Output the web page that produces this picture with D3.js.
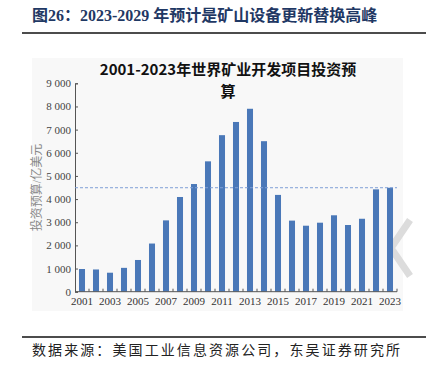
<!DOCTYPE html>
<html>
<head>
  <meta charset="utf-8">
  <title>矿业开发项目投资预算</title>
  <script src="https://d3js.org/d3.v7.min.js"></script>
  <style>
    body { margin: 0; background: #fff; }
    svg { display: block; }
  </style>
</head>
<body>
<div id="chart"></div>
<script>
  // data (亿美元)
  var years = ["2001","2002","2003","2004","2005","2006","2007","2008","2009","2010","2011","2012",
               "2013","2014","2015","2016","2017","2018","2019","2020","2021","2022","2023"];
  var budget = [980, 960, 820, 1030, 1370, 2080, 3080, 4090, 4650, 5630, 6760, 7330,
                7900, 6500, 4180, 3070, 2850, 2980, 3300, 2880, 3150, 4420, 4490];
  var yTicks = [0, 1000, 2000, 3000, 4000, 5000, 6000, 7000, 8000, 9000];
  var xLabels = ["2001","2003","2005","2007","2009","2011","2013","2015","2017","2019","2021","2023"];
  var titleLines = ["2001-2023年世界矿业开发项目投资预", "算"];
  var refLine = 4490;

  var W = 426, H = 375;
  var serif = "'Liberation Serif', 'Noto Sans CJK SC', serif";
  var sans = "'Noto Sans CJK SC', sans-serif";

  var svg = d3.select("#chart").append("svg")
    .attr("width", W).attr("height", H);

  // page heading
  svg.append("text")
    .attr("x", 32).attr("y", 21)
    .style("font-family", serif)
    .style("font-weight", "bold")
    .style("font-size", "16px")
    .attr("fill", "#1f3864")
    .text("图26：2023-2029 年预计是矿山设备更新替换高峰");

  svg.append("line")
    .attr("x1", 22).attr("x2", W).attr("y1", 33).attr("y2", 33)
    .attr("stroke", "#111").attr("stroke-width", 1.5);

  // chart panel
  svg.append("rect")
    .attr("x", 32).attr("y", 58).attr("width", 371).attr("height", 253)
    .attr("fill", "#f8f8f8");

  // watermark chevron
  svg.append("polyline")
    .attr("points", "410,220 391,248 410,276")
    .attr("fill", "none").attr("stroke", "#dcdcdc").attr("stroke-width", 7);

  // chart title, wrapped on two lines
  svg.append("text")
    .attr("x", 228).attr("y", 75)
    .attr("text-anchor", "middle")
    .style("font-family", sans).style("font-weight", "bold").style("font-size", "15px")
    .attr("fill", "#111")
    .selectAll("tspan")
    .data(titleLines)
    .enter().append("tspan")
    .attr("x", 228)
    .attr("dy", function(d, i) { return i === 0 ? 0 : 22; })
    .text(function(d) { return d; });

  var x = d3.scaleBand()
    .domain(years)
    .range([75, 397])
    .paddingInner(0.57)
    .paddingOuter(0.285);

  var y = d3.scaleLinear()
    .domain([0, 9000])
    .range([291.7, 83.3]);

  var fmt = function(v) { return d3.format(",")(v).replace(",", " "); };

  // y axis
  var yAxis = svg.append("g")
    .attr("transform", "translate(75,0)")
    .call(d3.axisRight(y).tickValues(yTicks).tickSize(3).tickFormat(""));
  yAxis.select(".domain").attr("stroke", "#555");
  yAxis.selectAll(".tick line").attr("stroke", "#555");

  svg.selectAll(".ylab")
    .data(yTicks)
    .enter().append("text")
    .attr("class", "ylab")
    .attr("x", 71)
    .attr("y", function(d) { return y(d) + 4; })
    .attr("text-anchor", "end")
    .style("font-family", serif).style("font-size", "11px")
    .attr("fill", "#444")
    .text(fmt);

  svg.append("text")
    .attr("transform", "translate(41," + y(4500) + ") rotate(-90)")
    .attr("text-anchor", "middle")
    .style("font-family", serif).style("font-size", "12px")
    .attr("fill", "#888")
    .text("投资预算/亿美元");

  // bars
  svg.selectAll(".bar")
    .data(budget)
    .enter().append("rect")
    .attr("class", "bar")
    .attr("x", function(d, i) { return x(years[i]); })
    .attr("width", x.bandwidth())
    .attr("y", function(d) { return y(d); })
    .attr("height", function(d) { return y(0) - y(d); })
    .attr("fill", "#4a78b8");

  // reference dashed line
  svg.append("line")
    .attr("x1", 75).attr("x2", 397)
    .attr("y1", y(refLine)).attr("y2", y(refLine))
    .attr("stroke", "#7f9fd6").attr("stroke-width", 1)
    .attr("stroke-dasharray", "3,2");

  // x axis
  svg.append("line")
    .attr("x1", 75).attr("x2", 397)
    .attr("y1", y(0)).attr("y2", y(0))
    .attr("stroke", "#555");

  var gap = x.step() - x.bandwidth();
  svg.selectAll(".xtick")
    .data(years)
    .enter().append("line")
    .attr("class", "xtick")
    .attr("x1", function(d) { return x(d) + x.bandwidth() + gap / 2; })
    .attr("x2", function(d) { return x(d) + x.bandwidth() + gap / 2; })
    .attr("y1", y(0)).attr("y2", y(0) - 3)
    .attr("stroke", "#555");

  svg.selectAll(".xlab")
    .data(xLabels)
    .enter().append("text")
    .attr("class", "xlab")
    .attr("x", function(d) { return x(d) + x.bandwidth() / 2; })
    .attr("y", 305)
    .attr("text-anchor", "middle")
    .style("font-family", serif).style("font-size", "11px")
    .attr("fill", "#333")
    .text(function(d) { return d; });

  // source footer
  svg.append("line")
    .attr("x1", 22).attr("x2", W).attr("y1", 337).attr("y2", 337)
    .attr("stroke", "#111").attr("stroke-width", 1.5);

  svg.append("text")
    .attr("x", 32).attr("y", 355)
    .attr("textLength", 368)
    .attr("lengthAdjust", "spacing")
    .style("font-family", serif).style("font-size", "14px")
    .attr("fill", "#222")
    .text("数据来源：美国工业信息资源公司，东吴证券研究所");
</script>
</body>
</html>
